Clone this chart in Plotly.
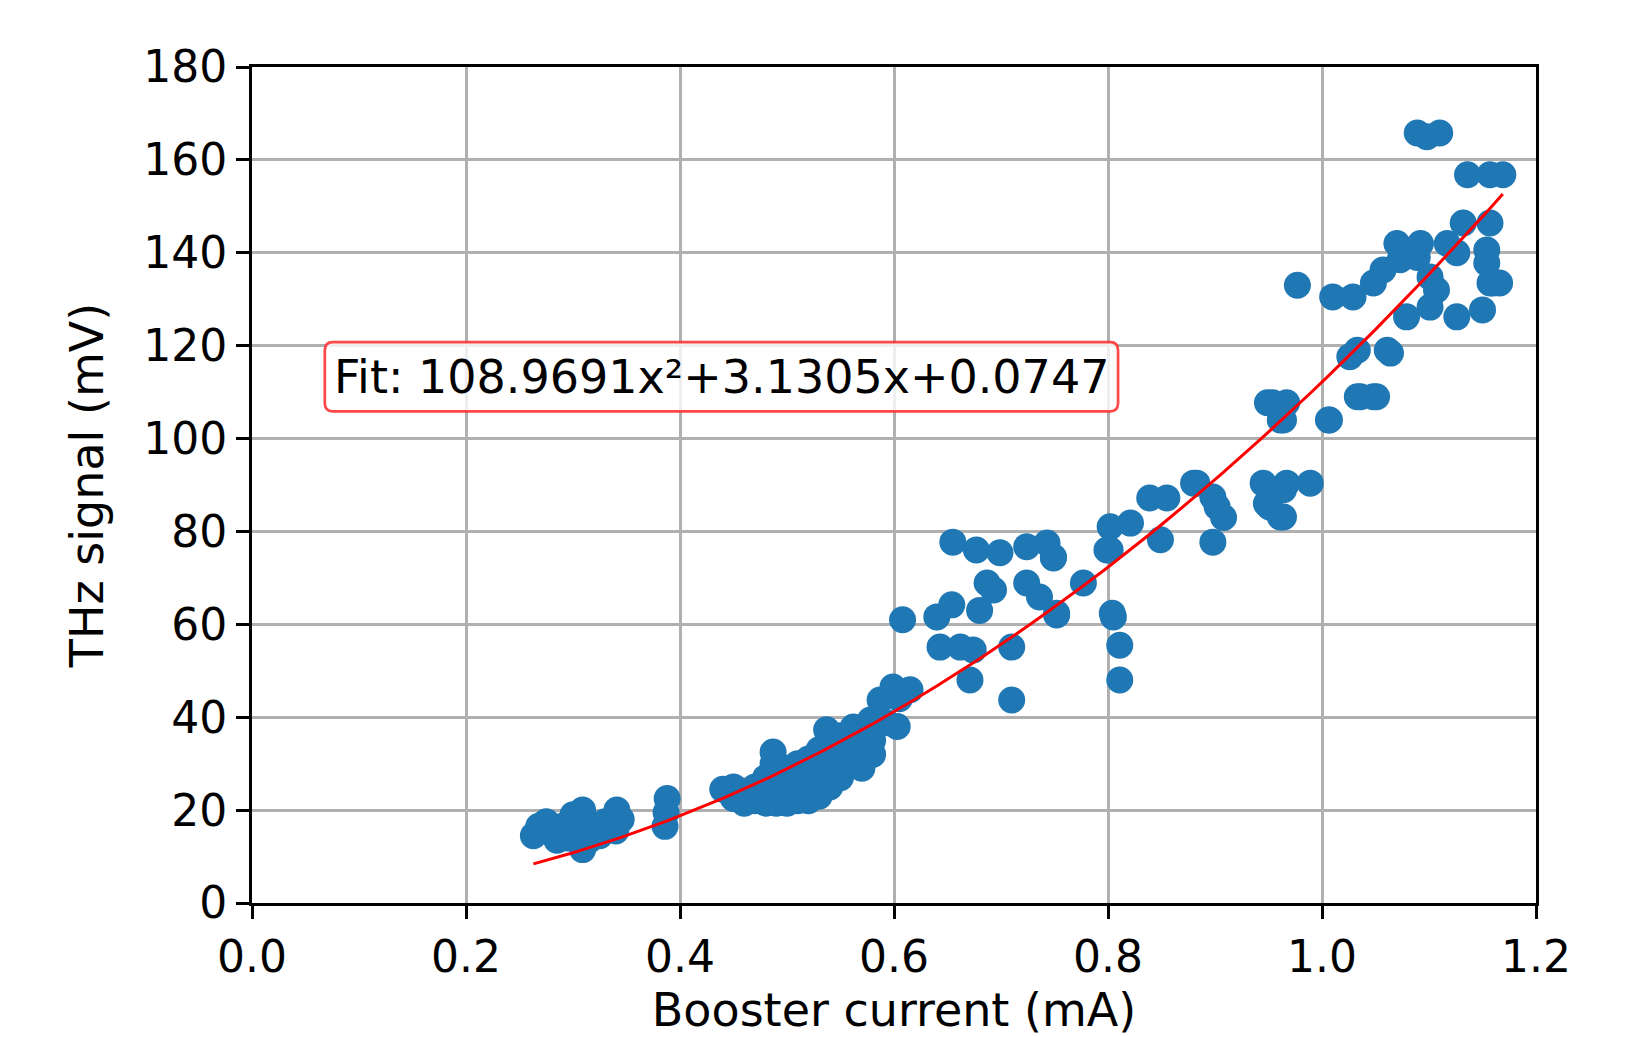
import numpy as np
import plotly.graph_objects as go

# Measured data points: booster current (mA) vs THz signal (mV)
current_ma = [
    # low-current cluster
    0.263, 0.268, 0.275, 0.280, 0.285, 0.290, 0.295, 0.300, 0.305, 0.309, 0.309, 0.315,
    0.320, 0.325, 0.330, 0.335, 0.341, 0.345, 0.340, 0.300,
    0.388, 0.386, 0.387,
    # dense cluster 0.44-0.60
    0.440, 0.445, 0.450, 0.450, 0.460, 0.460, 0.470, 0.470, 0.480, 0.480, 0.480,
    0.487, 0.487, 0.490, 0.490, 0.490, 0.500, 0.500, 0.500, 0.500,
    0.510, 0.510, 0.510, 0.510, 0.520, 0.520, 0.520, 0.520,
    0.530, 0.530, 0.530, 0.530, 0.537, 0.540, 0.540, 0.540, 0.540,
    0.550, 0.550, 0.550, 0.550, 0.560, 0.562, 0.560, 0.560,
    0.570, 0.570, 0.570, 0.570, 0.578, 0.580, 0.580, 0.580,
    0.587, 0.593, 0.599, 0.603, 0.605, 0.615,
    # scattered 0.60-0.82
    0.608, 0.640, 0.654, 0.643, 0.662, 0.674, 0.671, 0.680, 0.687, 0.693,
    0.655, 0.677, 0.699, 0.724, 0.743, 0.749, 0.724, 0.736, 0.752, 0.777,
    0.710, 0.710, 0.752, 0.749, 0.802, 0.805, 0.804, 0.811, 0.811,
    # 0.80-1.00
    0.799, 0.802, 0.821, 0.849, 0.839, 0.855, 0.883, 0.880, 0.898, 0.902, 0.908,
    0.898, 0.945, 0.948, 0.961, 0.967, 0.989, 0.964, 0.964, 0.951,
    0.949, 0.967, 0.961, 0.954, 0.964,
    # 1.00-1.17
    1.006, 1.007, 1.036, 1.048, 1.033, 1.051, 1.026, 1.033, 1.061, 1.064,
    0.977, 1.010, 1.029, 1.048, 1.057, 1.073, 1.089, 1.101, 1.107,
    1.079, 1.101, 1.126, 1.150, 1.157, 1.166, 1.154, 1.160,
    1.070, 1.092, 1.117, 1.126, 1.154, 1.132, 1.157,
    1.136, 1.157, 1.169, 1.089, 1.098, 1.110,
]
signal_mv = [
    14.5, 16.5, 17.5, 15.0, 13.5, 16.5, 14.0, 17.0, 15.0, 20.0, 11.5, 13.5,
    16.5, 14.5, 17.5, 16.0, 20.0, 18.0, 15.5, 19.0,
    22.5, 16.5, 19.5,
    24.5, 24.0, 25.0, 22.5, 24.0, 21.5, 25.0, 22.0, 27.0, 23.0, 21.5,
    32.5, 30.0, 27.0, 24.0, 21.5, 29.0, 26.0, 23.0, 21.5,
    30.0, 27.0, 24.0, 22.0, 31.0, 28.0, 25.0, 22.0,
    33.0, 29.0, 26.0, 23.0, 37.3, 36.0, 32.0, 28.0, 25.0,
    36.0, 33.0, 30.0, 27.0, 36.0, 37.9, 33.0, 30.0,
    37.0, 34.0, 31.0, 29.0, 39.4, 38.0, 35.0, 32.0,
    43.7, 38.8, 46.5, 38.0, 44.0, 45.9,
    61.0, 61.6, 64.2, 55.1, 55.1, 54.5, 48.0, 63.0, 68.9, 67.4,
    77.7, 76.0, 75.4, 76.7, 77.5, 74.3, 68.9, 65.9, 62.0, 68.9,
    55.1, 43.7, 62.4, 74.5, 76.0, 61.6, 62.4, 55.5, 48.0,
    76.0, 81.0, 81.8, 78.2, 87.2, 87.2, 90.4, 90.4, 87.4, 85.3, 83.0,
    77.7, 90.4, 86.0, 83.1, 90.4, 90.4, 89.0, 83.1, 85.3,
    107.7, 107.7, 104.0, 107.7, 104.0,
    104.0, 104.0, 109.0, 109.0, 119.0, 109.0, 117.6, 109.0, 119.0, 118.4,
    133.0, 130.5, 130.5, 133.5, 136.3, 138.5, 139.0, 134.8, 132.0,
    126.2, 128.3, 126.2, 127.7, 133.5, 133.5, 137.8, 133.5,
    142.0, 142.0, 142.0, 140.0, 140.6, 146.4, 146.4,
    156.8, 156.8, 156.8, 165.8, 165.0, 165.8,
]

# Quadratic fit coefficients (as printed on the chart)
fit_coeffs = [108.9691, 3.1305, 0.0747]
fit_label = "Fit: 108.9691x²+3.1305x+0.0747"

x_sorted = np.sort(np.array(current_ma))
fit_y = np.polyval(fit_coeffs, x_sorted)

FONT = "DejaVu Sans"
FS_TICK = 44
FS_TEXT = 46

fig = go.Figure()
fig.add_trace(go.Scatter(
    x=current_ma, y=signal_mv, mode="markers",
    marker=dict(color="#1f77b4", size=27, line=dict(width=0)),
    showlegend=False, hoverinfo="skip",
))
fig.add_trace(go.Scatter(
    x=x_sorted, y=fit_y, mode="lines",
    line=dict(color="red", width=3),
    showlegend=False, hoverinfo="skip",
))

axis_common = dict(
    showline=True, linecolor="black", linewidth=2.7, mirror=True,
    ticks="outside", ticklen=13, tickwidth=2.7, tickcolor="black",
    showgrid=True, gridcolor="#b0b0b0", gridwidth=2.7,
    zeroline=False,
    tickfont=dict(family=FONT, size=FS_TICK, color="black"),
)

fig.update_xaxes(
    range=[0, 1.2], dtick=0.2, tick0=0, tickformat=".1f",
    title=dict(text="Booster current (mA)", font=dict(family=FONT, size=FS_TEXT, color="black"), standoff=28),
    **axis_common,
)
fig.update_yaxes(
    range=[0, 180], dtick=20, tick0=0,
    title=dict(text="THz signal (mV)", font=dict(family=FONT, size=FS_TEXT, color="black"), standoff=26),
    **axis_common,
)

# Rounded text box (drawn in paper coordinates of the plot area)
bx0, bx1 = 0.0567, 0.6745
by0, by1 = 0.588, 0.671
rx, ry = 0.006, 0.010
box_path = (
    f"M {bx0+rx},{by0} L {bx1-rx},{by0} Q {bx1},{by0} {bx1},{by0+ry} "
    f"L {bx1},{by1-ry} Q {bx1},{by1} {bx1-rx},{by1} "
    f"L {bx0+rx},{by1} Q {bx0},{by1} {bx0},{by1-ry} "
    f"L {bx0},{by0+ry} Q {bx0},{by0} {bx0+rx},{by0} Z"
)
fig.add_shape(
    type="path", path=box_path, xref="paper", yref="paper",
    fillcolor="rgba(255,255,255,0.8)",
    line=dict(color="rgba(255,40,40,0.85)", width=2.7),
    layer="above",
)
fig.add_annotation(
    x=(bx0 + bx1) / 2, y=(by0 + by1) / 2, xref="paper", yref="paper",
    text=fit_label, showarrow=False,
    font=dict(family=FONT, size=FS_TEXT, color="black"),
    xanchor="center", yanchor="middle",
)

fig.update_layout(
    width=1630, height=1037,
    margin=dict(l=252, r=94, t=67, b=134, autoexpand=False),
    paper_bgcolor="white", plot_bgcolor="white",
    font=dict(family=FONT, size=FS_TEXT, color="black"),
)

fig.write_html("out.html")
